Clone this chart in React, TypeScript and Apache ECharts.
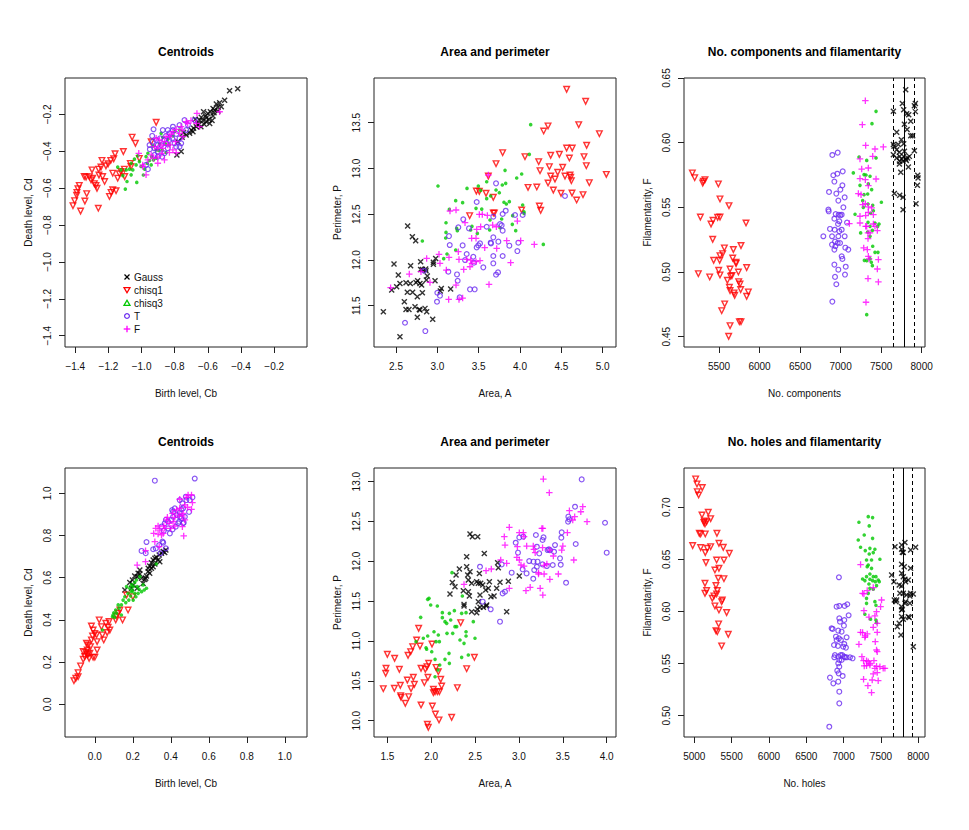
import React, { useEffect, useRef } from "react";
import * as echarts from "echarts";

type P = [number, number];

// ---------- tick values ----------
const centroidsTopTicks = [-1.4, -1.2, -1.0, -0.8, -0.6, -0.4, -0.2];
const centroidsBottomTicks = [0.0, 0.2, 0.4, 0.6, 0.8, 1.0];
const areaTopXTicks = [2.5, 3.0, 3.5, 4.0, 4.5, 5.0];
const perimTopYTicks = [11.5, 12.0, 12.5, 13.0, 13.5];
const componentsXTicks = [5500, 6000, 6500, 7000, 7500, 8000];
const filamentTopYTicks = [0.45, 0.5, 0.55, 0.6, 0.65];
const areaBottomXTicks = [1.5, 2.0, 2.5, 3.0, 3.5, 4.0];
const perimBottomYTicks = [10.0, 10.5, 11.0, 11.5, 12.0, 12.5, 13.0];
const holesXTicks = [5000, 5500, 6000, 6500, 7000, 7500, 8000];
const filamentBottomYTicks = [0.5, 0.55, 0.6, 0.65, 0.7];

// reference lines (Gaussian level)
const componentsRefLines = [7649, 7781, 7913];
const holesRefLines = [7665, 7799, 7924];

const groupNames = ["Gauss", "chisq1", "chisq3", "T", "F"];

// ---------- panel 1: Centroids (top) ----------
const centroids1Gauss: P[] = [[-0.469,-0.072],[-0.420,-0.061],[-0.499,-0.123],[-0.529,-0.137],[-0.549,-0.144],[-0.539,-0.162],[-0.559,-0.177],[-0.569,-0.168],[-0.585,-0.186],[-0.600,-0.195],[-0.614,-0.209],[-0.626,-0.186],[-0.640,-0.216],[-0.650,-0.231],[-0.630,-0.234],[-0.610,-0.240],[-0.594,-0.227],[-0.569,-0.209],[-0.589,-0.249],[-0.660,-0.249],[-0.670,-0.267],[-0.686,-0.276],[-0.700,-0.285],[-0.710,-0.303],[-0.731,-0.312],[-0.690,-0.294],[-0.656,-0.258],[-0.642,-0.267],[-0.622,-0.254],[-0.563,-0.191],[-0.539,-0.182],[-0.519,-0.159],[-0.755,-0.324],[-0.781,-0.348],[-0.761,-0.402],[-0.787,-0.420],[-0.747,-0.299],[-0.676,-0.227],[-0.610,-0.220],[-0.575,-0.234]];
const centroids1Chisq1: P[] = [[-0.912,-0.243],[-1.057,-0.324],[-1.037,-0.357],[-1.110,-0.402],[-1.160,-0.414],[-1.168,-0.441],[-1.186,-0.450],[-1.202,-0.468],[-1.239,-0.450],[-1.245,-0.486],[-1.215,-0.479],[-1.259,-0.497],[-1.299,-0.501],[-1.257,-0.529],[-1.235,-0.537],[-1.346,-0.537],[-1.335,-0.540],[-1.315,-0.538],[-1.305,-0.555],[-1.223,-0.564],[-1.285,-0.576],[-1.275,-0.585],[-1.269,-0.601],[-1.376,-0.585],[-1.384,-0.603],[-1.390,-0.623],[-1.392,-0.639],[-1.331,-0.630],[-1.404,-0.668],[-1.414,-0.695],[-1.342,-0.670],[-1.368,-0.724],[-1.261,-0.709],[-1.174,-0.609],[-1.184,-0.623],[-1.194,-0.645],[-1.154,-0.614],[-1.144,-0.546],[-1.134,-0.522],[-1.124,-0.510],[-1.104,-0.497],[-1.068,-0.466],[-1.064,-0.483],[-1.014,-0.439],[-0.942,-0.349],[-1.102,-0.537],[-1.174,-0.519],[-1.295,-0.546]];
const centroids1Chisq3: P[] = [[-0.882,-0.303],[-0.872,-0.324],[-0.928,-0.371],[-0.973,-0.429],[-1.023,-0.425],[-1.043,-0.443],[-1.033,-0.474],[-1.053,-0.501],[-1.063,-0.528],[-1.073,-0.497],[-1.093,-0.501],[-1.113,-0.532],[-1.144,-0.486],[-1.088,-0.564],[-1.098,-0.605],[-1.029,-0.569],[-0.989,-0.529],[-0.981,-0.497],[-0.966,-0.465],[-0.952,-0.450],[-0.940,-0.429],[-0.928,-0.447],[-0.912,-0.438],[-0.896,-0.396],[-0.892,-0.360],[-0.912,-0.393],[-0.856,-0.360],[-0.842,-0.335],[-0.811,-0.317],[-0.771,-0.285],[-0.832,-0.365],[-1.003,-0.483],[-1.013,-0.456],[-1.063,-0.465],[-1.124,-0.501],[-0.942,-0.474],[-0.876,-0.393],[-0.962,-0.411],[-0.852,-0.407],[-0.801,-0.294]];
const centroids1T: P[] = [[-0.928,-0.281],[-0.741,-0.231],[-0.680,-0.231],[-0.811,-0.267],[-0.842,-0.285],[-0.912,-0.339],[-0.932,-0.348],[-0.952,-0.366],[-0.922,-0.384],[-0.902,-0.366],[-0.888,-0.330],[-0.862,-0.339],[-0.852,-0.317],[-0.832,-0.303],[-0.791,-0.306],[-0.771,-0.330],[-0.761,-0.357],[-0.771,-0.375],[-0.801,-0.357],[-0.832,-0.339],[-0.842,-0.384],[-0.862,-0.411],[-0.876,-0.429],[-0.902,-0.429],[-0.922,-0.420],[-0.950,-0.389],[-0.973,-0.474],[-0.962,-0.497],[-0.811,-0.285],[-0.771,-0.258],[-0.720,-0.258],[-0.791,-0.375],[-0.882,-0.366],[-0.902,-0.402],[-0.731,-0.285],[-0.852,-0.357],[-0.815,-0.330],[-0.936,-0.317],[-0.872,-0.285]];
const centroids1F: P[] = [[-0.666,-0.195],[-0.529,-0.186],[-0.702,-0.234],[-0.722,-0.249],[-0.762,-0.267],[-0.791,-0.281],[-0.811,-0.294],[-0.832,-0.321],[-0.862,-0.348],[-0.882,-0.366],[-0.902,-0.384],[-0.912,-0.330],[-0.878,-0.411],[-0.902,-0.432],[-0.928,-0.438],[-0.962,-0.447],[-0.993,-0.474],[-1.017,-0.411],[-0.973,-0.528],[-0.993,-0.483],[-0.811,-0.393],[-0.795,-0.348],[-0.828,-0.366],[-0.771,-0.303],[-0.751,-0.321],[-0.852,-0.321],[-0.842,-0.366],[-0.872,-0.384],[-0.892,-0.339],[-0.731,-0.240],[-0.670,-0.249],[-0.650,-0.267],[-0.922,-0.375],[-0.942,-0.420],[-0.791,-0.407],[-0.832,-0.407],[-0.862,-0.447],[-0.902,-0.465],[-0.822,-0.308],[-0.755,-0.285]];

// ---------- panel 2: Area and perimeter (top) ----------
const area1Gauss: P[] = [[2.641,12.371],[2.698,12.254],[2.738,12.210],[2.476,11.955],[2.677,11.937],[2.798,11.981],[2.528,11.835],[2.548,11.744],[2.508,11.708],[2.448,11.671],[2.621,11.751],[2.673,11.744],[2.742,11.755],[2.762,11.773],[2.790,11.744],[2.810,11.726],[2.798,11.897],[2.819,11.897],[2.859,11.901],[2.879,11.824],[2.867,11.781],[2.972,11.773],[2.952,11.974],[2.980,12.017],[2.952,11.952],[3.048,11.689],[3.036,11.660],[3.161,11.682],[2.637,11.646],[2.701,11.646],[2.758,11.598],[2.819,11.642],[2.601,11.544],[2.621,11.460],[2.657,11.460],[2.730,11.489],[2.782,11.460],[2.790,11.453],[2.851,11.471],[2.871,11.434],[2.758,11.373],[2.944,11.351],[2.347,11.434],[2.548,11.161],[2.863,11.882]];
const area1Chisq1: P[] = [[4.564,13.864],[4.794,13.733],[4.960,13.380],[4.710,13.478],[4.339,13.464],[4.286,13.409],[4.564,13.223],[4.632,13.223],[4.806,13.252],[3.790,13.172],[4.060,13.128],[4.371,13.143],[4.476,13.154],[4.597,13.114],[4.774,13.128],[4.226,13.074],[3.710,13.052],[4.355,13.019],[4.516,13.012],[4.802,13.030],[4.242,12.975],[4.371,12.917],[4.456,12.957],[4.544,12.917],[4.605,12.928],[4.613,12.903],[4.621,12.866],[4.423,12.884],[5.044,12.935],[4.838,12.844],[4.339,12.841],[3.617,12.917],[4.097,12.793],[4.203,12.797],[4.403,12.764],[4.496,12.728],[4.629,12.731],[4.762,12.713],[4.685,12.655],[3.472,12.753],[3.508,12.750],[3.589,12.728],[3.677,12.684],[4.234,12.589],[4.250,12.542],[4.020,12.546],[3.391,12.484],[3.677,12.513],[3.690,12.513]];
const area1Chisq3: P[] = [[4.129,13.478],[4.113,13.154],[3.008,12.808],[3.819,12.979],[3.960,12.895],[4.020,12.939],[3.359,12.782],[3.524,12.760],[3.222,12.648],[3.306,12.626],[3.468,12.564],[3.537,12.556],[3.645,12.699],[3.597,12.670],[3.710,12.764],[3.750,12.735],[3.786,12.819],[3.827,12.837],[3.806,12.630],[3.871,12.637],[3.835,12.611],[4.032,12.600],[4.048,12.527],[4.048,12.509],[3.911,12.484],[3.778,12.447],[3.145,12.553],[3.105,12.407],[3.234,12.345],[3.242,12.320],[3.105,12.301],[3.101,12.240],[3.419,12.367],[3.403,12.327],[3.484,12.290],[3.633,12.327],[3.637,12.436],[3.758,12.352],[3.907,12.389],[3.948,12.320],[2.819,12.207],[3.222,12.108],[3.117,12.065],[3.077,12.014],[4.282,12.170],[3.496,12.808],[3.597,12.855]];
const area1T: P[] = [[4.544,12.699],[3.710,12.837],[3.476,12.633],[3.827,12.538],[3.940,12.491],[3.790,12.502],[4.032,12.491],[3.314,12.444],[3.254,12.356],[3.141,12.261],[3.383,12.345],[3.677,12.473],[3.597,12.363],[3.758,12.392],[3.778,12.378],[3.790,12.320],[3.677,12.247],[3.645,12.189],[3.649,12.181],[3.516,12.181],[3.496,12.159],[3.476,12.137],[3.306,12.159],[3.738,12.200],[3.871,12.156],[3.980,12.189],[3.968,12.097],[3.355,12.065],[3.435,12.035],[3.443,11.970],[3.335,11.999],[3.677,11.963],[3.677,12.043],[3.790,12.043],[3.556,11.919],[3.133,11.872],[3.238,11.842],[3.734,11.864],[3.710,11.839],[3.246,11.773],[3.000,11.642],[3.032,11.609],[3.395,11.679],[3.452,11.679],[3.270,11.591],[2.996,11.544],[2.609,11.314],[2.855,11.223],[3.150,12.163],[2.839,11.882]];
const area1F: P[] = [[3.617,12.928],[3.153,12.535],[3.226,12.546],[3.335,12.407],[3.508,12.498],[3.544,12.498],[3.605,12.487],[3.968,12.425],[3.476,12.334],[3.468,12.236],[3.415,12.236],[3.524,12.363],[3.669,12.381],[3.714,12.363],[3.839,12.211],[4.008,12.211],[4.173,12.170],[3.573,12.134],[3.718,12.126],[3.020,12.061],[2.871,12.017],[3.032,11.963],[3.141,12.028],[3.254,12.090],[3.355,12.006],[3.403,11.999],[3.262,12.006],[3.468,11.981],[3.516,11.992],[3.109,11.890],[3.319,11.897],[3.395,11.926],[3.419,11.963],[3.887,11.970],[2.802,11.872],[2.911,11.755],[2.661,11.846],[2.435,11.697],[3.137,11.569],[3.262,11.569],[3.306,11.584],[3.226,11.726],[3.625,11.733]];

// ---------- panel 3: No. components and filamentarity ----------
const comp1Gauss: P[] = [[7651,0.6242],[7803,0.6410],[7762,0.6302],[7778,0.6255],[7910,0.6286],[7922,0.6302],[7922,0.6240],[7815,0.6224],[7840,0.6216],[7865,0.6165],[7787,0.6142],[7692,0.6080],[7749,0.6023],[7778,0.5992],[7865,0.6054],[7889,0.6054],[7820,0.6101],[7651,0.5985],[7659,0.5972],[7651,0.5907],[7712,0.5985],[7692,0.5946],[7724,0.5925],[7787,0.5933],[7729,0.5894],[7692,0.5881],[7729,0.5856],[7754,0.5874],[7778,0.5894],[7803,0.5874],[7827,0.5882],[7848,0.5894],[7910,0.5938],[7725,0.5835],[7836,0.5812],[7742,0.5771],[7951,0.5748],[7955,0.5727],[7947,0.5670],[7663,0.5606],[7729,0.5593],[7770,0.5577],[7770,0.5482],[7930,0.5528],[7770,0.5856],[7811,0.5863]];
const comp1Chisq1: P[] = [[5171,0.5766],[5200,0.5729],[5307,0.5701],[5327,0.5714],[5299,0.5688],[5492,0.5681],[5270,0.5425],[5512,0.5565],[5623,0.5513],[5426,0.5400],[5401,0.5371],[5483,0.5423],[5512,0.5425],[5833,0.5379],[5422,0.5253],[5566,0.5186],[5677,0.5173],[5434,0.5090],[5508,0.5090],[5512,0.5126],[5545,0.5142],[5771,0.5204],[5669,0.5108],[5710,0.5075],[5710,0.5065],[5841,0.5034],[5636,0.5023],[5496,0.5013],[5245,0.4987],[5512,0.4977],[5385,0.4962],[5644,0.4967],[5660,0.4972],[5739,0.5000],[5603,0.4936],[5743,0.4925],[5759,0.4907],[5628,0.4882],[5636,0.4856],[5685,0.4838],[5767,0.4864],[5693,0.4820],[5862,0.4846],[5841,0.4812],[5570,0.4753],[5533,0.4701],[5636,0.4585],[5751,0.4616],[5771,0.4616],[5619,0.4503]];
const comp1Chisq3: P[] = [[7437,0.6242],[7387,0.6147],[7157,0.5766],[7227,0.5889],[7322,0.5863],[7437,0.5882],[7289,0.5753],[7313,0.5750],[7363,0.5740],[7239,0.5670],[7342,0.5681],[7289,0.5598],[7334,0.5603],[7383,0.5637],[7272,0.5552],[7338,0.5526],[7396,0.5516],[7503,0.5539],[7178,0.5446],[7280,0.5500],[7404,0.5474],[7371,0.5454],[7338,0.5384],[7363,0.5353],[7424,0.5379],[7457,0.5353],[7474,0.5371],[7392,0.5322],[7334,0.5309],[7396,0.5199],[7424,0.5152],[7461,0.5152],[7293,0.5090],[7322,0.5088],[7379,0.5075],[7363,0.5101],[7392,0.5049],[7322,0.4670],[7247,0.5302],[7363,0.5276]];
const comp1T: P[] = [[6898,0.5905],[6964,0.5923],[6910,0.5748],[6960,0.5760],[7026,0.5778],[6923,0.5699],[7022,0.5670],[6997,0.5637],[6857,0.5619],[6947,0.5606],[7050,0.5577],[6972,0.5552],[6849,0.5482],[6853,0.5469],[6976,0.5443],[6997,0.5438],[6939,0.5448],[7013,0.5443],[7034,0.5500],[6923,0.5412],[6984,0.5392],[7079,0.5382],[6968,0.5371],[6927,0.5327],[7013,0.5327],[6984,0.5315],[6972,0.5276],[6894,0.5276],[7050,0.5276],[6787,0.5276],[6931,0.5235],[6993,0.5224],[6964,0.5224],[6894,0.5212],[6935,0.5199],[7058,0.5188],[7095,0.5173],[6923,0.5173],[7013,0.5121],[7022,0.5101],[6923,0.5057],[7063,0.5041],[6972,0.5018],[7054,0.4980],[6931,0.4962],[6947,0.4905],[6898,0.4771],[6869,0.5333]];
const comp1F: P[] = [[7305,0.6325],[7268,0.6139],[7309,0.5979],[7424,0.5951],[7527,0.5967],[7239,0.5874],[7396,0.5894],[7260,0.5796],[7342,0.5804],[7239,0.5722],[7305,0.5714],[7437,0.5719],[7342,0.5668],[7219,0.5606],[7252,0.5598],[7272,0.5521],[7305,0.5528],[7342,0.5503],[7383,0.5495],[7342,0.5461],[7309,0.5436],[7239,0.5431],[7404,0.5443],[7239,0.5379],[7404,0.5371],[7309,0.5353],[7424,0.5353],[7363,0.5302],[7338,0.5302],[7322,0.5353],[7453,0.5320],[7338,0.5258],[7285,0.5186],[7330,0.5173],[7342,0.5121],[7351,0.5101],[7466,0.5096],[7453,0.5023],[7338,0.4949],[7466,0.4923],[7313,0.4766],[7108,0.5374]];

// ---------- panel 4: Centroids (bottom) ----------
const centroids2Gauss: P[] = [[0.158,0.542],[0.184,0.577],[0.198,0.589],[0.210,0.608],[0.228,0.621],[0.237,0.618],[0.223,0.605],[0.246,0.597],[0.263,0.592],[0.272,0.608],[0.281,0.645],[0.289,0.621],[0.289,0.656],[0.298,0.671],[0.307,0.684],[0.316,0.665],[0.324,0.697],[0.333,0.684],[0.339,0.708],[0.351,0.716],[0.360,0.724],[0.368,0.719],[0.374,0.731],[0.298,0.645],[0.307,0.652],[0.254,0.573],[0.223,0.550],[0.237,0.637],[0.202,0.566],[0.281,0.629],[0.268,0.597],[0.342,0.676],[0.316,0.692],[0.193,0.550]];
const centroids2Chisq1: P[] = [[-0.110,0.112],[-0.100,0.123],[-0.088,0.131],[-0.088,0.150],[-0.075,0.182],[-0.061,0.213],[-0.053,0.226],[-0.047,0.245],[-0.040,0.257],[-0.035,0.238],[-0.026,0.242],[-0.040,0.234],[-0.030,0.218],[-0.009,0.223],[0.000,0.223],[-0.023,0.273],[-0.035,0.281],[-0.018,0.305],[-0.012,0.324],[0.000,0.336],[-0.018,0.371],[-0.009,0.352],[0.009,0.329],[0.012,0.297],[0.012,0.257],[0.023,0.400],[0.035,0.368],[0.040,0.329],[0.047,0.305],[0.058,0.384],[0.065,0.340],[0.070,0.365],[0.075,0.392],[0.079,0.352],[0.110,0.400],[0.114,0.419],[0.146,0.400],[0.132,0.447],[0.123,0.431],[0.167,0.518],[0.175,0.447],[0.200,0.510],[-0.044,0.289],[-0.061,0.250]];
const centroids2Chisq3: P[] = [[0.272,0.550],[0.219,0.589],[0.237,0.605],[0.210,0.577],[0.193,0.566],[0.184,0.550],[0.202,0.558],[0.223,0.558],[0.233,0.545],[0.246,0.534],[0.254,0.566],[0.210,0.526],[0.193,0.534],[0.175,0.526],[0.216,0.510],[0.202,0.494],[0.179,0.494],[0.163,0.482],[0.149,0.494],[0.140,0.471],[0.123,0.471],[0.128,0.455],[0.110,0.447],[0.114,0.431],[0.096,0.423],[0.100,0.434],[0.093,0.415],[0.105,0.412],[0.140,0.423],[0.040,0.352],[0.228,0.526],[0.188,0.513],[0.158,0.510],[0.260,0.542],[0.167,0.558],[0.198,0.539],[0.324,0.665]];
const centroids2T: P[] = [[0.316,1.060],[0.526,1.070],[0.272,0.769],[0.246,0.727],[0.268,0.716],[0.307,0.735],[0.321,0.739],[0.339,0.755],[0.360,0.766],[0.374,0.739],[0.346,0.716],[0.356,0.771],[0.363,0.823],[0.351,0.842],[0.368,0.858],[0.386,0.866],[0.374,0.874],[0.395,0.810],[0.409,0.829],[0.412,0.889],[0.407,0.921],[0.421,0.929],[0.412,0.913],[0.433,0.897],[0.447,0.889],[0.456,0.881],[0.474,0.889],[0.447,0.908],[0.444,0.866],[0.439,0.858],[0.468,0.861],[0.461,0.953],[0.447,0.968],[0.482,0.968],[0.500,0.968],[0.514,0.981],[0.479,0.984],[0.456,0.924],[0.465,0.929],[0.496,0.912],[0.403,0.874],[0.426,0.842],[0.465,0.858],[0.386,0.834]];
const centroids2F: P[] = [[0.223,0.660],[0.267,0.676],[0.267,0.728],[0.316,0.771],[0.339,0.747],[0.310,0.810],[0.321,0.834],[0.333,0.845],[0.342,0.826],[0.351,0.803],[0.360,0.810],[0.333,0.807],[0.368,0.834],[0.377,0.874],[0.382,0.886],[0.391,0.858],[0.400,0.834],[0.421,0.845],[0.412,0.866],[0.430,0.921],[0.444,0.897],[0.460,0.893],[0.465,0.905],[0.474,0.874],[0.461,0.842],[0.421,0.886],[0.468,0.798],[0.447,0.972],[0.482,0.981],[0.491,0.992],[0.509,0.992],[0.514,0.956],[0.509,0.924],[0.488,0.934],[0.474,0.945],[0.447,0.929],[0.409,0.905],[0.363,0.845]];

// ---------- panel 5: Area and perimeter (bottom) ----------
const area2Gauss: P[] = [[2.442,12.343],[2.469,12.310],[2.530,12.310],[2.404,12.059],[2.605,12.100],[2.321,11.904],[2.283,11.828],[2.241,11.736],[2.214,11.590],[2.271,11.682],[2.366,11.632],[2.404,11.933],[2.416,11.828],[2.423,11.766],[2.442,11.870],[2.423,11.619],[2.435,11.565],[2.461,11.724],[2.518,11.745],[2.537,11.724],[2.549,11.849],[2.564,11.724],[2.587,11.703],[2.621,11.640],[2.651,11.661],[2.663,11.745],[2.681,11.557],[2.716,11.565],[2.746,11.661],[2.757,11.983],[2.765,11.921],[2.784,11.737],[2.879,11.749],[2.860,11.368],[2.374,11.460],[2.374,11.439],[2.461,11.368],[2.518,11.356],[2.526,11.398],[2.556,11.423],[2.594,11.423],[2.628,11.439],[2.556,11.577],[2.632,11.452],[2.537,11.494],[3.004,11.816]];
const area2Chisq1: P[] = [[1.454,10.402],[1.485,10.657],[1.481,10.594],[1.500,10.833],[1.580,10.406],[1.583,10.783],[1.637,10.644],[1.648,10.444],[1.652,10.314],[1.656,10.293],[1.705,10.218],[1.728,10.510],[1.736,10.820],[1.743,10.301],[1.766,10.866],[1.770,10.402],[1.789,10.929],[1.796,10.544],[1.808,10.456],[1.834,11.013],[1.857,11.159],[1.872,10.937],[1.884,10.657],[1.884,10.197],[1.922,10.477],[1.933,10.644],[1.952,10.678],[1.956,9.954],[1.967,9.916],[1.963,10.544],[1.971,10.720],[2.009,10.962],[2.013,10.184],[2.025,10.393],[2.025,10.352],[2.044,10.364],[2.048,10.084],[2.070,10.364],[2.081,10.615],[2.089,10.009],[2.093,10.364],[2.108,10.519],[2.119,10.435],[2.055,10.669],[2.233,10.042],[2.298,10.414],[2.336,11.230],[2.404,10.653],[2.492,10.795]];
const area2Chisq3: P[] = [[2.237,11.858],[1.975,11.536],[1.960,11.523],[1.994,11.452],[1.880,11.297],[1.827,10.992],[1.910,11.034],[1.948,10.896],[2.032,11.117],[2.081,11.075],[2.070,11.439],[2.127,11.356],[2.127,11.293],[2.157,11.243],[2.176,11.222],[2.207,11.347],[2.222,11.264],[2.264,11.381],[2.271,11.180],[2.290,11.180],[2.245,11.096],[2.180,11.096],[2.093,10.992],[2.055,10.992],[2.006,10.866],[2.044,10.770],[2.157,10.770],[2.207,10.720],[2.097,10.699],[2.078,10.636],[2.044,10.552],[2.203,10.845],[2.328,11.013],[2.355,11.565],[2.347,11.347],[2.397,11.356],[2.397,11.063],[2.374,10.971],[2.397,11.117],[2.423,10.824],[2.480,11.243],[2.499,11.034],[2.347,10.795],[1.941,10.916],[1.960,11.063]];
const area2T: P[] = [[3.715,13.029],[3.981,12.485],[4.000,12.109],[3.639,12.686],[3.563,12.561],[3.575,12.527],[3.560,12.498],[3.647,12.218],[3.487,12.364],[3.483,12.297],[3.411,12.205],[3.400,12.121],[3.468,12.038],[3.476,11.958],[3.537,11.732],[3.385,11.954],[3.355,12.142],[3.340,12.151],[3.269,12.268],[3.280,12.301],[3.193,12.331],[3.204,12.184],[3.231,12.100],[3.212,11.996],[3.204,11.933],[3.174,11.891],[3.166,11.996],[3.269,11.962],[3.318,11.941],[3.117,12.004],[3.042,11.900],[3.087,11.849],[3.163,11.782],[3.050,12.310],[3.004,12.301],[2.963,12.234],[2.989,12.109],[2.917,11.858],[2.814,11.598],[2.841,11.619],[2.803,11.962],[2.784,11.243],[2.678,11.398],[2.587,11.494],[2.556,11.933],[3.326,12.142]];
const area2F: P[] = [[3.278,13.033],[3.346,12.862],[3.727,12.686],[3.705,12.623],[3.575,12.636],[3.635,12.561],[3.613,12.519],[3.776,12.498],[3.552,12.360],[3.272,12.414],[3.261,12.414],[2.890,12.427],[2.833,12.310],[2.841,12.205],[3.004,12.360],[3.050,12.360],[3.058,12.310],[3.088,12.192],[3.163,12.192],[3.170,12.151],[3.269,12.172],[3.352,12.142],[3.500,12.192],[3.487,12.142],[2.976,12.050],[3.004,12.017],[3.023,11.954],[3.058,11.941],[3.185,12.109],[3.392,12.067],[3.625,12.017],[3.318,11.967],[3.287,11.950],[3.223,11.841],[3.223,11.858],[3.287,11.841],[3.352,11.774],[3.449,11.841],[2.860,11.975],[2.792,12.017],[2.685,11.904],[2.625,11.883],[2.890,11.661],[2.374,11.711],[3.080,11.632],[3.128,11.674],[3.242,11.661],[3.272,11.577],[2.982,12.184]];

// ---------- panel 6: No. holes and filamentarity ----------
const holes2Gauss: P[] = [[7643,0.6350],[7674,0.6286],[7688,0.6622],[7745,0.6254],[7710,0.6110],[7679,0.6110],[7701,0.6094],[7719,0.5854],[7768,0.5774],[7777,0.6638],[7777,0.6597],[7786,0.6568],[7799,0.6565],[7821,0.6661],[7777,0.6453],[7812,0.6430],[7777,0.6366],[7799,0.6334],[7821,0.6309],[7866,0.6302],[7830,0.6286],[7777,0.6245],[7799,0.6174],[7754,0.6174],[7843,0.6158],[7897,0.6174],[7830,0.6094],[7821,0.6078],[7777,0.6046],[7777,0.6014],[7786,0.6021],[7888,0.6078],[7777,0.5950],[7799,0.5925],[7866,0.5950],[7879,0.5941],[7888,0.6149],[7897,0.6590],[7964,0.6616],[7897,0.6414],[7933,0.6168],[7933,0.5662],[7745,0.5886]];
const holes2Chisq1: P[] = [[5018,0.7272],[5036,0.7224],[5040,0.7150],[5058,0.7118],[5107,0.7189],[4978,0.6632],[5085,0.6613],[5067,0.6750],[5085,0.6744],[5103,0.6926],[5134,0.6869],[5129,0.6853],[5143,0.6840],[5165,0.6862],[5187,0.6952],[5219,0.6891],[5147,0.6744],[5174,0.6606],[5219,0.6622],[5147,0.6565],[5156,0.6469],[5303,0.6750],[5330,0.6654],[5388,0.6616],[5469,0.6558],[5299,0.6494],[5397,0.6494],[5330,0.6414],[5276,0.6398],[5321,0.6318],[5397,0.6315],[5143,0.6270],[5143,0.6174],[5165,0.6200],[5290,0.6248],[5308,0.6200],[5263,0.6149],[5241,0.6126],[5299,0.6168],[5276,0.6053],[5330,0.6014],[5366,0.6094],[5375,0.6110],[5433,0.5989],[5326,0.5880],[5290,0.5816],[5308,0.5806],[5455,0.5781],[5366,0.5669]];
const holes2Chisq3: P[] = [[7330,0.6910],[7388,0.6901],[7205,0.6856],[7343,0.6821],[7276,0.6734],[7388,0.6702],[7196,0.6686],[7227,0.6616],[7290,0.6584],[7352,0.6606],[7419,0.6597],[7397,0.6565],[7343,0.6552],[7307,0.6494],[7374,0.6494],[7486,0.6501],[7330,0.6446],[7316,0.6430],[7374,0.6414],[7352,0.6360],[7307,0.6334],[7397,0.6334],[7433,0.6334],[7254,0.6312],[7285,0.6296],[7352,0.6309],[7388,0.6296],[7424,0.6286],[7464,0.6302],[7477,0.6286],[7339,0.6264],[7352,0.6222],[7397,0.6213],[7441,0.6248],[7330,0.6174],[7307,0.6126],[7307,0.6078],[7419,0.6094],[7433,0.6059],[7285,0.5973],[7433,0.5918],[7441,0.5893],[7361,0.5925]];
const holes2T: P[] = [[6937,0.6328],[6906,0.6046],[6942,0.6053],[7013,0.6053],[7049,0.6069],[7067,0.5963],[6942,0.5934],[6951,0.5902],[7009,0.5918],[7004,0.5864],[6839,0.5838],[6853,0.5832],[7040,0.5752],[6928,0.5816],[6973,0.5806],[6897,0.5758],[6937,0.5742],[6906,0.5726],[6964,0.5726],[7009,0.5688],[6995,0.5662],[7031,0.5653],[6924,0.5669],[6871,0.5678],[6884,0.5582],[6875,0.5560],[6928,0.5566],[6960,0.5582],[6982,0.5582],[7004,0.5566],[7040,0.5560],[7085,0.5560],[7120,0.5550],[6942,0.5534],[6973,0.5534],[7018,0.5560],[6928,0.5502],[6942,0.5470],[6915,0.5432],[6933,0.5406],[6987,0.5381],[6817,0.5365],[6862,0.5310],[6928,0.5326],[6942,0.5230],[6942,0.5118],[6808,0.4894]];
const holes2F: P[] = [[7227,0.6450],[7254,0.6174],[7272,0.6168],[7316,0.6200],[7397,0.6229],[7272,0.6008],[7508,0.6110],[7495,0.6046],[7339,0.5946],[7441,0.5998],[7419,0.5957],[7450,0.5886],[7397,0.5848],[7450,0.5800],[7227,0.5800],[7254,0.5797],[7290,0.5765],[7316,0.5784],[7285,0.5752],[7205,0.5685],[7424,0.5710],[7441,0.5630],[7450,0.5614],[7245,0.5566],[7267,0.5528],[7276,0.5477],[7307,0.5528],[7330,0.5518],[7307,0.5480],[7352,0.5502],[7406,0.5528],[7419,0.5454],[7441,0.5474],[7486,0.5470],[7530,0.5454],[7553,0.5454],[7450,0.5413],[7397,0.5400],[7267,0.5349],[7383,0.5342],[7463,0.5336],[7325,0.5288],[7374,0.5221],[7352,0.5486]];

// ---------- styling ----------
const FONT = "'Liberation Sans', Arial, Helvetica, sans-serif";
const COL_GAUSS = "#000000";
const COL_CHISQ1 = "#ff0000";
const COL_CHISQ3 = "#00c800";
const COL_T = "#6a2bf0";
const COL_F = "#ff00ff";
const X_PATH = "path://M0,0L10,10M10,0L0,10";
const PLUS_PATH = "path://M5,0L5,10M0,5L10,5";

type PanelDef = {
  title: string; xName: string; yName: string;
  left: number; top: number; width: number; height: number;
  xMin: number; xMax: number; yMin: number; yMax: number;
  xTicks: number[]; yTicks: number[]; xDec: number; yDec: number;
  data: P[][]; refLines?: number[];
};

const panels: PanelDef[] = [
  { title: "Centroids", xName: "Birth level, Cb", yName: "Death level, Cd", left: 65, top: 78, width: 242, height: 269,
    xMin: -1.462, xMax: -0.002, yMin: -1.461, yMax: -0.003, xTicks: centroidsTopTicks, yTicks: centroidsTopTicks, xDec: 1, yDec: 1,
    data: [centroids1Gauss, centroids1Chisq1, centroids1Chisq3, centroids1T, centroids1F] },
  { title: "Area and perimeter", xName: "Area, A", yName: "Perimeter, P", left: 374, top: 78, width: 242, height: 269,
    xMin: 2.234, xMax: 5.161, yMin: 11.049, yMax: 13.988, xTicks: areaTopXTicks, yTicks: perimTopYTicks, xDec: 1, yDec: 1,
    data: [area1Gauss, area1Chisq1, area1Chisq3, area1T, area1F] },
  { title: "No. components and filamentarity", xName: "No. components", yName: "Filamentarity, F", left: 684, top: 78, width: 241, height: 269,
    xMin: 5068, xMax: 8041, yMin: 0.442, yMax: 0.65, xTicks: componentsXTicks, yTicks: filamentTopYTicks, xDec: 0, yDec: 2,
    data: [comp1Gauss, comp1Chisq1, comp1Chisq3, comp1T, comp1F], refLines: componentsRefLines },
  { title: "Centroids", xName: "Birth level, Cb", yName: "Death level, Cd", left: 65, top: 468, width: 242, height: 269,
    xMin: -0.157, xMax: 1.117, yMin: -0.155, yMax: 1.12, xTicks: centroidsBottomTicks, yTicks: centroidsBottomTicks, xDec: 1, yDec: 1,
    data: [centroids2Gauss, centroids2Chisq1, centroids2Chisq3, centroids2T, centroids2F] },
  { title: "Area and perimeter", xName: "Area, A", yName: "Perimeter, P", left: 374, top: 468, width: 242, height: 269,
    xMin: 1.348, xMax: 4.106, yMin: 9.795, yMax: 13.172, xTicks: areaBottomXTicks, yTicks: perimBottomYTicks, xDec: 1, yDec: 1,
    data: [area2Gauss, area2Chisq1, area2Chisq3, area2T, area2F] },
  { title: "No. holes and filamentarity", xName: "No. holes", yName: "Filamentarity, F", left: 684, top: 468, width: 241, height: 269,
    xMin: 4862, xMax: 8090, yMin: 0.4795, yMax: 0.7377, xTicks: holesXTicks, yTicks: filamentBottomYTicks, xDec: 0, yDec: 2,
    data: [holes2Gauss, holes2Chisq1, holes2Chisq3, holes2T, holes2F], refLines: holesRefLines },
];

const fmt = (v: number, d: number) => v.toFixed(d).replace("-", "\u2212");

function groupStyle(g: number): any {
  switch (g) {
    case 0: return { symbol: X_PATH, symbolSize: 5, itemStyle: { color: COL_GAUSS, borderColor: COL_GAUSS, borderWidth: 1.4 } };
    case 1: return { symbol: "triangle", symbolRotate: 180, symbolSize: 5.6, itemStyle: { color: "rgba(255,255,255,0)", borderColor: COL_CHISQ1, borderWidth: 1.4 } };
    case 2: return { symbol: "circle", symbolSize: 3.6, itemStyle: { color: COL_CHISQ3, borderWidth: 0 } };
    case 3: return { symbol: "circle", symbolSize: 4.8, itemStyle: { color: "rgba(255,255,255,0)", borderColor: COL_T, borderWidth: 1.2 } };
    default: return { symbol: PLUS_PATH, symbolSize: 6.5, itemStyle: { color: COL_F, borderColor: COL_F, borderWidth: 1.3 } };
  }
}

function buildOption(): any {
  const grid: any[] = [];
  const xAxis: any[] = [];
  const yAxis: any[] = [];
  const series: any[] = [];
  const graphic: any[] = [];

  panels.forEach((p, i) => {
    grid.push({ left: p.left, top: p.top, width: p.width, height: p.height, show: true, borderColor: "#222", borderWidth: 1, backgroundColor: "transparent" });
    xAxis.push({
      type: "value", gridIndex: i, min: p.xMin, max: p.xMax, position: "bottom",
      axisLine: { show: false, onZero: false }, splitLine: { show: false },
      axisTick: { show: true, inside: false, length: 6, customValues: p.xTicks, lineStyle: { color: "#222", width: 1 } },
      axisLabel: { show: true, customValues: p.xTicks, formatter: (v: number) => fmt(v, p.xDec), fontSize: 10, color: "#111", fontFamily: FONT, margin: 14 },
      name: p.xName, nameLocation: "middle", nameGap: 41, nameTextStyle: { fontSize: 10, color: "#111", fontFamily: FONT },
    });
    yAxis.push({
      type: "value", gridIndex: i, min: p.yMin, max: p.yMax, position: "left",
      axisLine: { show: false, onZero: false }, splitLine: { show: false },
      axisTick: { show: true, inside: false, length: 6, customValues: p.yTicks, lineStyle: { color: "#222", width: 1 } },
      axisLabel: { show: true, customValues: p.yTicks, rotate: 90, formatter: (v: number) => fmt(v, p.yDec), fontSize: 10, color: "#111", fontFamily: FONT, margin: 13 },
      name: p.yName, nameLocation: "middle", nameGap: 32, nameTextStyle: { fontSize: 10, color: "#111", fontFamily: FONT },
    });
    p.data.forEach((d, g) => {
      const s: any = {
        type: "scatter", name: groupNames[g] + "_" + i, xAxisIndex: i, yAxisIndex: i,
        data: d, silent: true, emphasis: { disabled: true }, z: 2 + g,
        ...groupStyle(g),
      };
      if (g === 0 && p.refLines) {
        s.markLine = {
          silent: true, symbol: ["none", "none"], label: { show: false }, animation: false,
          lineStyle: { color: "#000", width: 1 },
          data: p.refLines.map((v, k) => ({ xAxis: v, lineStyle: { color: "#000", width: 1, type: k === 1 ? "solid" : [4, 3] } })),
        };
      }
      series.push(s);
    });
    graphic.push({
      type: "text", x: p.left + p.width / 2, y: i < 3 ? 52 : 442, silent: true,
      style: { text: p.title, font: `bold 12px ${FONT}`, fill: "#000", textAlign: "center", textVerticalAlign: "middle" },
    });
  });

  // legend (panel 1)
  const lx = 127, tx = 134;
  const rows = [277, 290, 303, 316, 329];
  graphic.push(
    { type: "line", silent: true, shape: { x1: lx - 2.5, y1: rows[0] - 2.5, x2: lx + 2.5, y2: rows[0] + 2.5 }, style: { stroke: COL_GAUSS, lineWidth: 1.3 } },
    { type: "line", silent: true, shape: { x1: lx + 2.5, y1: rows[0] - 2.5, x2: lx - 2.5, y2: rows[0] + 2.5 }, style: { stroke: COL_GAUSS, lineWidth: 1.3 } },
    { type: "polygon", silent: true, shape: { points: [[lx - 3, rows[1] - 2.4], [lx + 3, rows[1] - 2.4], [lx, rows[1] + 2.8]] }, style: { fill: "none", stroke: COL_CHISQ1, lineWidth: 1.3 } },
    { type: "polygon", silent: true, shape: { points: [[lx - 3, rows[2] + 2.4], [lx + 3, rows[2] + 2.4], [lx, rows[2] - 2.8]] }, style: { fill: "none", stroke: COL_CHISQ3, lineWidth: 1.3 } },
    { type: "circle", silent: true, shape: { cx: lx, cy: rows[3], r: 2.4 }, style: { fill: "none", stroke: COL_T, lineWidth: 1.2 } },
    { type: "line", silent: true, shape: { x1: lx - 3.3, y1: rows[4], x2: lx + 3.3, y2: rows[4] }, style: { stroke: COL_F, lineWidth: 1.3 } },
    { type: "line", silent: true, shape: { x1: lx, y1: rows[4] - 3.3, x2: lx, y2: rows[4] + 3.3 }, style: { stroke: COL_F, lineWidth: 1.3 } },
  );
  groupNames.forEach((n, k) => {
    graphic.push({ type: "text", x: tx, y: rows[k], silent: true, style: { text: n, font: `10px ${FONT}`, fill: "#111", textAlign: "left", textVerticalAlign: "middle" } });
  });

  return { animation: false, backgroundColor: "#ffffff", grid, xAxis, yAxis, series, graphic };
}

export default function App() {
  const ref = useRef<HTMLDivElement>(null);
  useEffect(() => {
    if (!ref.current) return;
    const chart = echarts.init(ref.current, undefined, { renderer: "svg" });
    chart.setOption(buildOption());
    return () => chart.dispose();
  }, []);
  return <div ref={ref} style={{ position: "absolute", left: 0, top: 0, width: 969, height: 830, background: "#fff" }} />;
}
